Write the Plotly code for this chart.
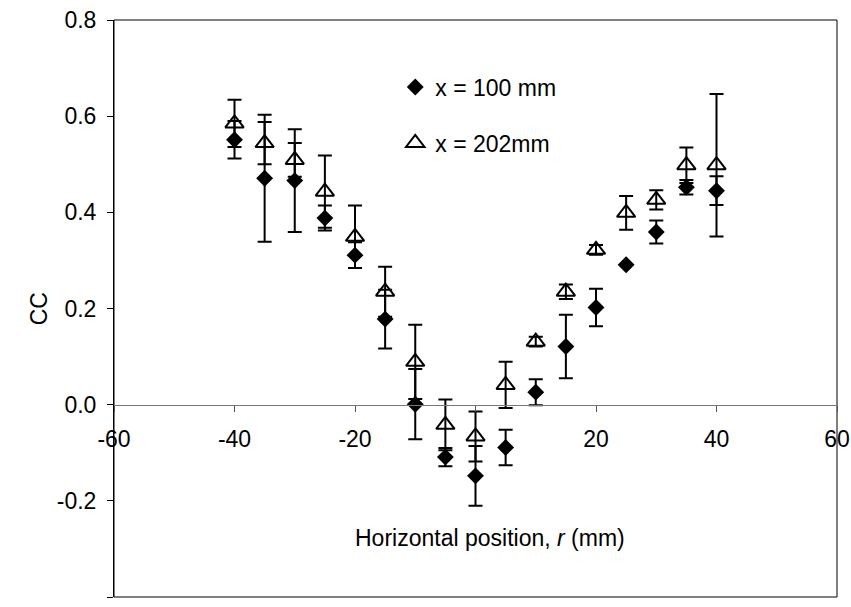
import plotly.graph_objects as go

r_pos = [-40, -35, -30, -25, -20, -15, -10, -5, 0, 5, 10, 15, 20, 25, 30, 35, 40]

cc_100 = [0.551, 0.471, 0.466, 0.388, 0.311, 0.178, 0.001, -0.109, -0.148, -0.089,
          0.026, 0.121, 0.202, 0.291, 0.359, 0.452, 0.445]
err_100 = [0.039, 0.132, 0.107, 0.026, 0.027, 0.061, 0.073, 0.019, 0.062, 0.037,
           0.027, 0.066, 0.039, 0.0, 0.024, 0.015, 0.030]

cc_202 = [0.585, 0.544, 0.509, 0.443, 0.349, 0.235, 0.089, -0.042, -0.066, 0.041,
          0.131, 0.235, 0.322, 0.399, 0.426, 0.498, 0.498]
err_202 = [0.049, 0.044, 0.035, 0.075, 0.065, 0.052, 0.077, 0.053, 0.052, 0.048,
           0.010, 0.015, 0.010, 0.035, 0.020, 0.037, 0.148]

x_tickvals = [-60, -40, -20, 0, 20, 40, 60]
x_ticktext = ["-60", "-40", "-20", "", "20", "40", "60"]
y_tickvals = [-0.4, -0.2, 0.0, 0.2, 0.4, 0.6, 0.8]
y_ticktext = ["-0.4", "-0.2", "0.0", "0.2", "0.4", "0.6", "0.8"]

FONT = "Liberation Sans, Arial, sans-serif"
FS = 23

fig = go.Figure()

fig.add_trace(go.Scatter(
    x=r_pos, y=cc_202, mode="markers", name="x = 202mm", legendgroup="b",
    legendrank=2,
    marker=dict(symbol="triangle-up-open", size=16, color="black",
                line=dict(color="black", width=2)),
    error_y=dict(type="data", array=err_202, visible=True, color="black",
                 thickness=2, width=7),
))
fig.add_trace(go.Scatter(
    x=r_pos, y=cc_100, mode="markers", name="x = 100 mm", legendgroup="a",
    legendrank=1,
    marker=dict(symbol="diamond", size=13, color="black"),
    error_y=dict(type="data", array=err_100, visible=True, color="black",
                 thickness=2, width=7),
))

fig.update_layout(
    width=851, height=607,
    margin=dict(l=114, r=14, t=20, b=10, autoexpand=False),
    paper_bgcolor="white", plot_bgcolor="white",
    font=dict(family=FONT, size=FS, color="black"),
    showlegend=True,
    legend=dict(x=0.389, y=0.921, xanchor="left", yanchor="top",
                traceorder="grouped", tracegroupgap=23,
                bgcolor="rgba(0,0,0,0)", font=dict(size=FS, family=FONT),
                itemwidth=30),
    xaxis=dict(range=[-60, 60], tickvals=x_tickvals, ticktext=x_ticktext,
               anchor="free", position=1/3, showline=True, linecolor="#777",
               linewidth=1, ticks="outside", ticklen=6, tickcolor="#555",
               showgrid=False, zeroline=False, ticklabelstandoff=8,
               automargin=False),
    yaxis=dict(range=[-0.4, 0.8], tickvals=y_tickvals, ticktext=y_ticktext,
               showline=True, linecolor="black", linewidth=1, ticks="outside",
               ticklen=6, tickcolor="black", showgrid=False, zeroline=False,
               ticklabelstandoff=6, automargin=False),
    shapes=[dict(type="rect", xref="paper", yref="paper", x0=0, x1=1, y0=0, y1=1,
                 line=dict(color="black", width=1), fillcolor="rgba(0,0,0,0)",
                 layer="below")],
    annotations=[
        dict(text="Horizontal position, <i>r</i> (mm)", xref="paper", yref="paper",
             x=0.52, y=0.103, showarrow=False, font=dict(size=FS, family=FONT),
             xanchor="center", yanchor="middle"),
        dict(text="CC", xref="paper", yref="paper", x=-0.104, y=0.5,
             showarrow=False, textangle=-90, font=dict(size=FS, family=FONT),
             xanchor="center", yanchor="middle"),
    ],
)

fig.write_html("out.html")
